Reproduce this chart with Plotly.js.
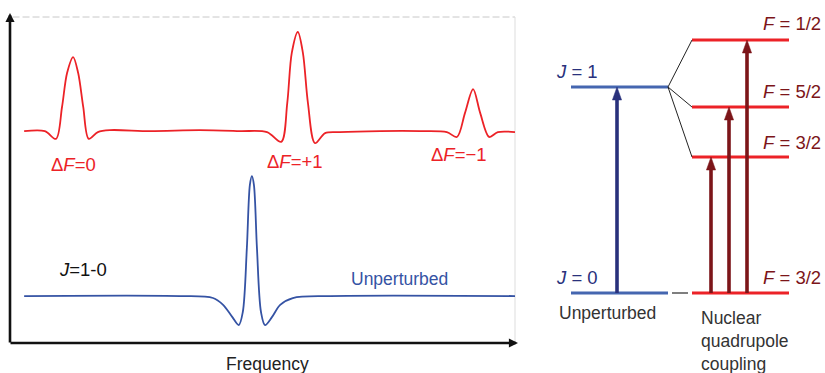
<!DOCTYPE html>
<html>
<head>
<meta charset="utf-8">
<script src="https://cdn.plot.ly/plotly-3.0.1.min.js"></script>
<style>html,body{margin:0;padding:0;background:#fff;}#chart{width:825px;height:373px;}</style>
</head>
<body>
<div id="chart"></div>
<script>
// ---------------- DATA ----------------
// Spectrum, arbitrary units (frequency 0-100, intensity 0-100)
const freqQuad = [2.8, 6.9, 9.1, 10.3, 11.3, 12.5, 13.5, 14.5, 15.6, 17.4, 19.8, 27.7, 37.6, 45.5,
  50.9, 53.7, 54.9, 55.8, 57.0, 58.0, 59.0, 60.4, 62.4, 65.3, 73.3, 81.2,
  86.5, 88.5, 90.1, 91.7, 93.1, 94.9, 96.6, 100];
const intQuad = [65.0, 65.0, 62.6, 72.4, 82.8, 87.7, 82.8, 72.4, 62.6, 64.7, 65.3, 65.0, 65.3, 65.0,
  64.7, 61.7, 73.6, 89.0, 95.4, 89.0, 73.6, 61.3, 64.4, 64.7, 65.0, 65.0,
  64.7, 63.2, 70.6, 77.9, 70.6, 63.2, 64.7, 64.7];
const freqUnpert = [2.8, 33.7, 40.2, 42.2, 44.0, 45.3, 46.1, 46.9, 47.5, 47.9, 48.3, 48.9, 49.7, 50.5, 51.9, 53.5, 56.0, 63.4, 100];
const intUnpert = [14.4, 14.4, 13.8, 11.7, 8.0, 5.5, 9.5, 29.1, 48.5, 51.2, 48.5, 29.1, 9.5, 5.5, 8.0, 11.7, 13.8, 14.4, 14.4];
const lineLabels = ['\u0394<i>F</i>=0', '\u0394<i>F</i>=+1', '\u0394<i>F</i>=\u22121'];

// Energy levels (relative energy, arbitrary units)
const unpertLabels = ['<i>J</i> = 0', '<i>J</i> = 1'];
const unpertEnergy = [0, 206];
const quadLabels = ['<i>F</i> = 3/2', '<i>F</i> = 3/2', '<i>F</i> = 5/2', '<i>F</i> = 1/2'];
const quadEnergy = [0, 136, 186, 253];
const transitionsTo = [1, 2, 3];

// ---------------- LAYOUT CONSTANTS ----------------
const W = 825, H = 373;
const FONT = 'Liberation Sans, Arial, sans-serif';
const FS = 17.5, FSL = 18.5;
const RED = '#ec2227', BLUE = '#3553a4', DARKRED = '#7c1519', NAVY = '#29317c', LEVELBLUE = '#4566b0';
const unpertX = [571, 668];
const quadX = [692, 789];
const gapX = [672, 688];
const blueArrowX = 617;
const quadArrowX = [711, 729, 747];
const headLen = 13, headHalf = 4.6;
// right panel: y2 energy -> pixel: py = 293 - E
const E0px = 293;

function px(x) { return x / W; }
function py(y) { return 1 - y / H; }

const traces = [];
traces.push({x: freqQuad, y: intQuad, type: 'scatter', mode: 'lines', line: {color: RED, width: 1.8, shape: 'spline', smoothing: 0.9}, xaxis: 'x', yaxis: 'y', hoverinfo: 'skip'});
traces.push({x: freqUnpert, y: intUnpert, type: 'scatter', mode: 'lines', line: {color: BLUE, width: 1.8, shape: 'spline', smoothing: 0.9}, xaxis: 'x', yaxis: 'y', hoverinfo: 'skip'});

// levels
function hlines(xr, energies) {
  const xs = [], ys = [];
  energies.forEach(e => { xs.push(xr[0], xr[1], null); ys.push(e, e, null); });
  return {xs, ys};
}
const ul = hlines(unpertX, unpertEnergy);
traces.push({x: ul.xs, y: ul.ys, type: 'scatter', mode: 'lines', line: {color: LEVELBLUE, width: 3.2}, xaxis: 'x2', yaxis: 'y2', hoverinfo: 'skip'});
const ql = hlines(quadX, quadEnergy);
traces.push({x: ql.xs, y: ql.ys, type: 'scatter', mode: 'lines', line: {color: RED, width: 3.2}, xaxis: 'x2', yaxis: 'y2', hoverinfo: 'skip'});
// connectors
const cx = [], cy = [];
transitionsTo.forEach(i => { cx.push(unpertX[1], quadX[0], null); cy.push(unpertEnergy[1], quadEnergy[i], null); });
traces.push({x: cx, y: cy, type: 'scatter', mode: 'lines', line: {color: '#222', width: 1}, xaxis: 'x2', yaxis: 'y2', hoverinfo: 'skip'});
traces.push({x: gapX, y: [unpertEnergy[0], unpertEnergy[0]], type: 'scatter', mode: 'lines', line: {color: '#555', width: 1.5}, xaxis: 'x2', yaxis: 'y2', hoverinfo: 'skip'});

// arrows
function arrow(xc, e0, e1, color) {
  traces.push({x: [xc, xc], y: [e0, e1 - headLen + 2], type: 'scatter', mode: 'lines', line: {color: color, width: 3.6}, xaxis: 'x2', yaxis: 'y2', hoverinfo: 'skip'});
  traces.push({x: [xc - headHalf, xc, xc + headHalf, xc - headHalf], y: [e1 - headLen, e1, e1 - headLen, e1 - headLen], type: 'scatter', mode: 'lines', fill: 'toself', fillcolor: color, line: {color: color, width: 0.5}, xaxis: 'x2', yaxis: 'y2', hoverinfo: 'skip'});
}
arrow(blueArrowX, unpertEnergy[0], unpertEnergy[1], NAVY);
transitionsTo.forEach((i, k) => arrow(quadArrowX[k], quadEnergy[0], quadEnergy[i], DARKRED));

// annotations
function txt(text, x, y, color, size, opts) {
  return Object.assign({text: text, x: px(x), y: py(y), xref: 'paper', yref: 'paper', showarrow: false,
    xanchor: 'center', yanchor: 'middle', font: {family: FONT, size: size, color: color}}, opts || {});
}
const annotations = [
  txt(lineLabels[0], 73.5, 164, RED, FSL),
  txt(lineLabels[1], 294.5, 161, RED, FSL),
  txt(lineLabels[2], 458.5, 154, RED, FSL),
  txt('<i>J</i>=1-0', 82.5, 269, '#111', FSL),
  txt('Unperturbed', 399.5, 279, BLUE, FS),
  txt('Frequency', 267, 364, '#222', FS),
  txt(unpertLabels[1], 577, 71, NAVY, FSL),
  txt(unpertLabels[0], 577, 277, NAVY, FSL),
  txt(quadLabels[3], 792, 23, DARKRED, FSL),
  txt(quadLabels[2], 792, 92, DARKRED, FSL),
  txt(quadLabels[1], 792, 142, DARKRED, FSL),
  txt(quadLabels[0], 792, 277, DARKRED, FSL),
  txt('Unperturbed', 607.5, 313, '#333', FS),
  txt('Nuclear<br>quadrupole<br>coupling', 699, 341, '#333', FS, {xanchor: 'left', align: 'left'}),
  // axis arrows (pixel coordinates via x2/y2 where y2 = 293 - py)
  {text: '', x: 10, y: E0px - 13, xref: 'x2', yref: 'y2', ax: 10, ay: E0px - 344, axref: 'x2', ayref: 'y2', showarrow: true, arrowhead: 2, arrowwidth: 2.6, arrowsize: 0.7, arrowcolor: '#111'},
  {text: '', x: 518, y: E0px - 343, xref: 'x2', yref: 'y2', ax: 9, ay: E0px - 343, axref: 'x2', ayref: 'y2', showarrow: true, arrowhead: 2, arrowwidth: 2.6, arrowsize: 0.7, arrowcolor: '#111'}
];

const shapes = [
  {type: 'line', xref: 'x domain', yref: 'y domain', x0: 0.005, x1: 1, y0: 1, y1: 1, line: {color: '#c8c8c8', width: 1, dash: '7px,3px'}, layer: 'below'},
  {type: 'line', xref: 'x domain', yref: 'y domain', x0: 1, x1: 1, y0: 0, y1: 1, line: {color: '#dddddd', width: 1}, layer: 'below'}
];

const hidden = {visible: false, fixedrange: true};
const layout = {
  width: W, height: H,
  margin: {l: 0, r: 0, t: 0, b: 0},
  paper_bgcolor: '#fff', plot_bgcolor: 'rgba(0,0,0,0)',
  showlegend: false,
  xaxis: Object.assign({domain: [px(10), px(515)], range: [0, 100], anchor: 'y'}, hidden),
  yaxis: Object.assign({domain: [py(343), py(17)], range: [0, 100], anchor: 'x'}, hidden),
  xaxis2: Object.assign({domain: [0, 1], range: [0, W], anchor: 'y2'}, hidden),
  yaxis2: Object.assign({domain: [0, 1], range: [E0px - H, E0px], anchor: 'x2'}, hidden),
  annotations: annotations,
  shapes: shapes,
  font: {family: FONT}
};
Plotly.newPlot('chart', traces, layout, {staticPlot: true, displayModeBar: false});
</script>
</body>
</html>
